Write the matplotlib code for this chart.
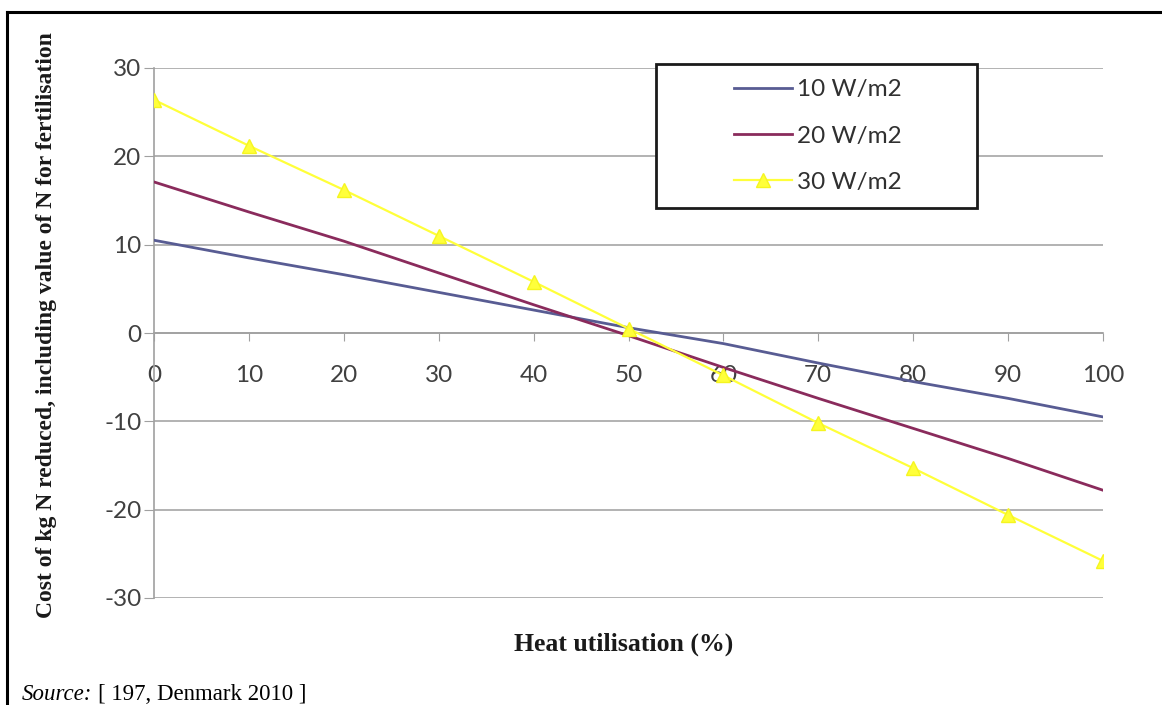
import matplotlib
matplotlib.use("Agg")
import matplotlib.pyplot as plt
from matplotlib.patches import Rectangle
from matplotlib.lines import Line2D

plt.rcParams["axes.unicode_minus"] = False

heat = [0, 10, 20, 30, 40, 50, 60, 70, 80, 90, 100]
w10 = [10.5, 8.5, 6.6, 4.6, 2.6, 0.6, -1.2, -3.4, -5.5, -7.4, -9.5]
w20 = [17.1, 13.7, 10.4, 6.8, 3.2, -0.3, -3.9, -7.4, -10.8, -14.2, -17.8]
w30 = [26.4, 21.2, 16.2, 11.0, 5.8, 0.5, -4.8, -10.2, -15.3, -20.6, -25.8]
labels = ["10 W/m2", "20 W/m2", "30 W/m2"]
yticks = [-30, -20, -10, 0, 10, 20, 30]

W, H = 1162, 705
fig = plt.figure(figsize=(W / 100, H / 100), dpi=100)
ax = fig.add_axes([154 / W, 1 - 598 / H, (1103 - 154) / W, (598 - 68) / H])

ax.plot(heat, w10, color="#585c93", lw=2.0, label=labels[0], zorder=3)
ax.plot(heat, w20, color="#8a2b5c", lw=2.0, label=labels[1], zorder=3)
ax.plot(heat, w30, color="#ffff3a", lw=1.6, marker="^", ms=10,
        markeredgecolor="#f5f520", label=labels[2], zorder=3)

ax.set_xlim(0, 100)
ax.set_ylim(-30, 30)
ax.set_xticks(heat)
ax.set_yticks(yticks)
ax.yaxis.grid(True, color="#a6a6a6", lw=1.2)
ax.set_axisbelow(True)

for s in ["top", "right"]:
    ax.spines[s].set_visible(False)
ax.spines["bottom"].set_position(("data", 0))
ax.spines["bottom"].set_color("#a0a0a0")
ax.spines["left"].set_color("#a0a0a0")
ax.spines["bottom"].set_linewidth(1.2)
ax.spines["left"].set_linewidth(1.2)

ax.tick_params(axis="y", length=7, color="#a0a0a0", pad=2)
ax.tick_params(axis="x", length=6, color="#a0a0a0", pad=17)
for t in ax.get_xticklabels() + ax.get_yticklabels():
    t.set_fontfamily("Lato")
    t.set_fontsize(17.5)
    t.set_color("#404040")

# legend with a hand-placed white box
lx0, lx1, ly0, ly1 = 656, 977, 64, 208
box = Rectangle((lx0 / W, 1 - ly1 / H), (lx1 - lx0) / W, (ly1 - ly0) / H,
                transform=fig.transFigure, facecolor="white",
                edgecolor="#1a1a1a", lw=2, zorder=4, clip_on=False)
ax.add_artist(box)
leg = ax.legend(loc="center", bbox_to_anchor=(818 / W, 1 - 136 / H),
                bbox_transform=fig.transFigure, frameon=False,
                prop=dict(family="Lato", size=17.5), handlelength=2.4,
                handletextpad=0.2, labelspacing=1.04)
for t in leg.get_texts():
    t.set_color("#303030")
leg.set_zorder(5)

fig.text(47 / W, 1 - 32 / H,
         "Cost of kg N reduced, including value of N for fertilisation",
         rotation=90, ha="center", va="top", family="Liberation Serif",
         weight="bold", size=17, color="#1a1a1a")
fig.text(624 / W, 1 - 644 / H, "Heat utilisation (%)", ha="center", va="center",
         family="Liberation Serif", weight="bold", size=18.5, color="#1a1a1a")

src = fig.text(22 / W, 1 - 694 / H, "Source:", ha="left", va="center",
               family="Liberation Serif", style="italic", size=16.5, color="black")
r = fig.canvas.get_renderer()
bb = src.get_window_extent(renderer=r)
fig.text(bb.x1 / W + 6 / W, 1 - 694 / H, "[ 197, Denmark 2010 ]", ha="left", va="center",
         family="Liberation Serif", size=16.5, color="black")

# outer frame (left and top edges)
fig.add_artist(Line2D([7 / W, 7 / W], [0, 1 - 12 / H], transform=fig.transFigure,
                      color="black", lw=2.2))
fig.add_artist(Line2D([7 / W, 1], [1 - 12 / H, 1 - 12 / H], transform=fig.transFigure,
                      color="black", lw=2.2))

fig.savefig("out.png", dpi=100)
